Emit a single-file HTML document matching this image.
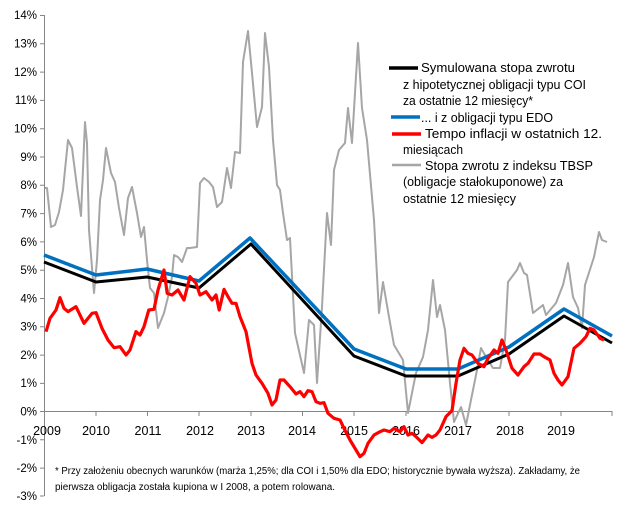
<!DOCTYPE html>
<html><head><meta charset="utf-8"><style>
html,body{margin:0;padding:0;background:#fff;}
svg{display:block;font-family:"Liberation Sans",sans-serif;}
</style></head><body>
<svg width="626" height="511" viewBox="0 0 626 511" xmlns="http://www.w3.org/2000/svg">
<rect width="626" height="511" fill="#fff"/>
<!-- axes -->
<g stroke="#868686" stroke-width="1" fill="none">
<line x1="44.5" y1="15" x2="44.5" y2="496"/>
<line x1="44" y1="411.5" x2="612" y2="411.5"/>
<path d="M40 15.5h4M40 43.8h4M40 72.1h4M40 100.4h4M40 128.7h4M40 157h4M40 185.3h4M40 213.6h4M40 241.9h4M40 270.2h4M40 298.5h4M40 326.8h4M40 355.1h4M40 383.4h4M40 411.5h4M40 439.8h4M40 468.1h4M40 496h4"/>
<path d="M44.5 411v5M96 411v5M147.5 411v5M199 411v5M251 411v5M302.5 411v5M354 411v5M406 411v5M457.5 411v5M509 411v5M561 411v5M612 411v5"/>
</g>
<g font-size="11.5" fill="#000" text-anchor="end">
<text x="37" y="19">14%</text><text x="37" y="47.5">13%</text><text x="37" y="76">12%</text><text x="37" y="104">11%</text><text x="37" y="132.5">10%</text><text x="37" y="161">9%</text><text x="37" y="189">8%</text><text x="37" y="217.5">7%</text><text x="37" y="246">6%</text><text x="37" y="274">5%</text><text x="37" y="302.5">4%</text><text x="37" y="330.5">3%</text><text x="37" y="359">2%</text><text x="37" y="387">1%</text><text x="37" y="415.5">0%</text><text x="37" y="444">-1%</text><text x="37" y="472">-2%</text><text x="37" y="500">-3%</text>
</g>
<g font-size="12.5" fill="#000" text-anchor="middle">
<text x="47" y="435">2009</text><text x="96" y="435">2010</text><text x="148" y="435">2011</text><text x="200" y="435">2012</text><text x="251" y="435">2013</text><text x="302" y="435">2014</text><text x="354" y="435">2015</text><text x="406" y="435">2016</text><text x="458" y="435">2017</text><text x="510" y="435">2018</text><text x="561" y="435">2019</text>
</g>
<!-- gray -->
<polyline fill="none" stroke="#a6a6a6" stroke-width="2" stroke-linejoin="round" points="45,188 47,188 51,227 55,225 59,212 63,190 68,140 72,148 77,187 81,216 85,122 87,143 89,230 94,293 97,260 100,200 103,180 106,148 111,173 115,182 119,208 124,235 128,198 132,187 137,213 141,237 144,227 147,260 150,288 154,293 158,328 164,313 168,297 172,277 174,255 178,257 182,262 187,248 190,248 197,247 200,183 204,178 209,182 213,187 217,207 222,202 227,168 231,188 235,152 240,153 243,62 248,31 252,73 257,127 262,107 265,33 269,67 273,140 277,185 280,190 283,213 287,240 290,238 295,333 304,373 309,320 314,325 317,383 322,307 327,213 331,245 334,170 339,150 345,143 348,108 352,143 358,43 362,108 367,140 374,220 379,313 383,282 389,317 394,345 403,360 408,413 416,373 423,357 428,330 433,280 437,317 440,305 445,330 450,383 454,422 461,407 466,425 471,400 477,370 481,348 486,357 493,368 500,368 505,340 508,282 517,270 520,263 524,273 527,275 533,313 543,305 546,315 556,303 563,285 568,263 573,297 578,308 582,328 585,285 594,257 599,232 602,240 607,242"/>
<!-- blue -->
<polyline fill="none" stroke="#0070c0" stroke-width="3.5" stroke-linejoin="round" points="44,255 96,275 147,269 199,281 250,238 354,349 406,369 458,369 509,347 564,309 612,336"/>
<!-- black -->
<polyline fill="none" stroke="#000" stroke-width="3" stroke-linejoin="round" points="44,262 96,282 147,277 199,288 251,244 354,356 406,376 458,376 509,354 564,316 612,343"/>
<!-- red -->
<g transform="translate(0,250) scale(0.4,0.33333)">
<polyline fill="none" stroke="#ff0000" stroke-width="3.2" vector-effect="non-scaling-stroke" stroke-linejoin="round" points="115,245 125,205 140,180 150,143 160,175 170,185 190,170 210,220 230,190 240,188 255,235 270,270 285,293 300,290 315,315 325,300 340,245 350,255 360,230 372,180 385,178 395,120 410,60 418,130 430,135 445,120 460,150 475,80 490,100 500,135 515,125 530,150 540,135 548,180 560,118 570,140 580,160 590,160 600,200 615,245 630,340 640,375 655,400 670,430 680,465 690,450 700,390 710,390 725,410 740,432 750,425 760,440 770,422 780,425 790,455 800,460 810,458 820,490 835,505 850,510 860,535 875,570 890,600 900,620 910,610 920,580 935,555 950,545 960,540 975,545 985,535 1000,545 1010,530 1020,555 1030,550 1040,560 1055,578 1070,555 1080,562 1090,555 1100,540 1115,500 1130,482 1140,400 1150,330 1160,295 1170,310 1180,315 1195,340 1210,350 1220,325 1235,300 1245,310 1255,270 1265,300 1280,355 1295,375 1310,350 1320,340 1335,312 1350,312 1360,320 1375,330 1385,370 1395,390 1405,405 1420,380 1435,295 1450,280 1465,260 1475,235 1485,240 1500,265 1510,270"/>
</g>
<!-- legend -->
<rect x="385" y="55" width="226" height="152" fill="#fff"/>
<line x1="389" y1="68" x2="418" y2="68" stroke="#000" stroke-width="3.5"/>
<line x1="391" y1="117" x2="420" y2="117" stroke="#0070c0" stroke-width="3.5"/>
<line x1="392" y1="134" x2="421" y2="134" stroke="#ff0000" stroke-width="3.5"/>
<line x1="392" y1="165" x2="421" y2="165" stroke="#a6a6a6" stroke-width="2.5"/>
<g font-size="12.5" fill="#000">
<text x="421" y="72" textLength="154" lengthAdjust="spacingAndGlyphs">Symulowana stopa zwrotu</text>
<text x="403" y="89" textLength="183" lengthAdjust="spacingAndGlyphs">z hipotetycznej obligacji typu COI</text>
<text x="403" y="105" textLength="130" lengthAdjust="spacingAndGlyphs">za ostatnie 12 miesięcy*</text>
<text x="421" y="122" textLength="132" lengthAdjust="spacingAndGlyphs">... i z obligacji typu EDO</text>
<text x="425" y="138" textLength="177" lengthAdjust="spacingAndGlyphs">Tempo inflacji w ostatnich 12.</text>
<text x="403" y="154" textLength="60" lengthAdjust="spacingAndGlyphs">miesiącach</text>
<text x="425" y="170" textLength="168" lengthAdjust="spacingAndGlyphs">Stopa zwrotu z indeksu TBSP</text>
<text x="403" y="186" textLength="160" lengthAdjust="spacingAndGlyphs">(obligacje stałokuponowe) za</text>
<text x="403" y="203" textLength="113" lengthAdjust="spacingAndGlyphs">ostatnie 12 miesięcy</text>
</g>
<!-- footnote -->
<g font-size="10" fill="#000">
<text x="55" y="474" textLength="525" lengthAdjust="spacingAndGlyphs">* Przy założeniu obecnych warunków (marża 1,25%; dla COI i 1,50% dla EDO; historycznie bywała wyższa). Zakładamy, że</text>
<text x="55" y="490" textLength="280" lengthAdjust="spacingAndGlyphs">pierwsza obligacja została kupiona w I 2008, a potem rolowana.</text>
</g>
</svg>
</body></html>
